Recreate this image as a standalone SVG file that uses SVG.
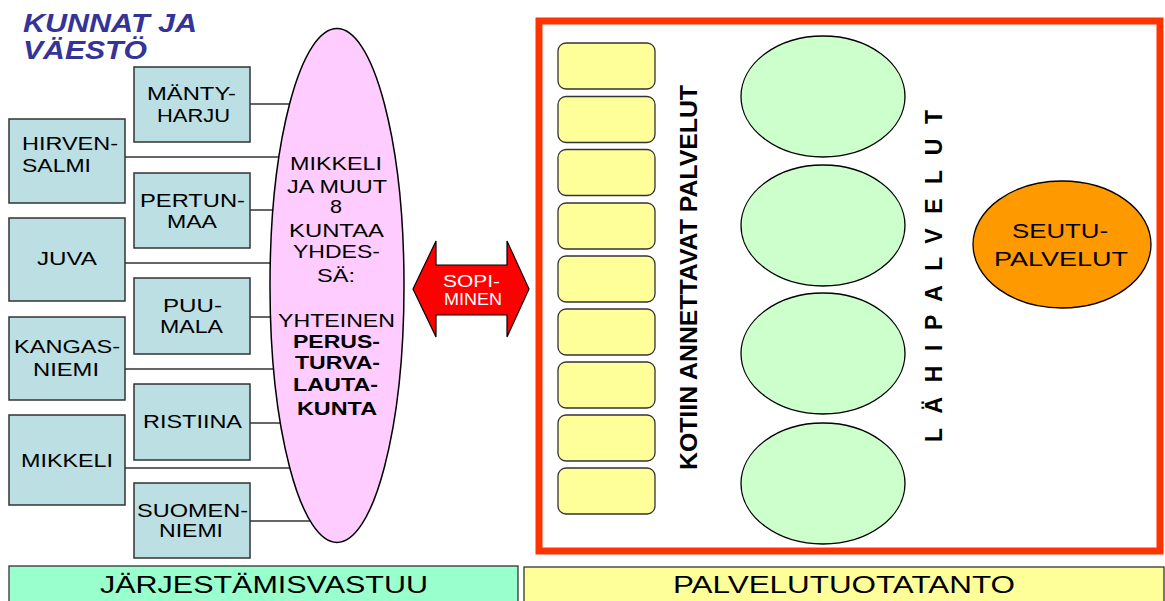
<svg xmlns="http://www.w3.org/2000/svg" width="1165" height="601" viewBox="0 0 1165 601">
<style>
text{font-family:"Liberation Sans",Arial,sans-serif;fill:#000}
.box{fill:#BBDFE3;stroke:#333;stroke-width:1.5}
.t18{font-size:18.5px}
.e{font-size:18.5px}
.b{font-weight:bold}
.conn line{stroke:#333;stroke-width:1.5}
.yr{fill:#FFFF99;stroke:#333;stroke-width:1.3}
.ge{fill:#CCFFCC;stroke:#000;stroke-width:1.3}
</style>
<rect width="1165" height="601" fill="#fff"/>
<g id="title">
<text x="23" y="31.5" font-size="26" font-weight="bold" font-style="italic" style="fill:#333399" textLength="174" lengthAdjust="spacingAndGlyphs">KUNNAT JA</text>
<text x="23" y="59" font-size="26" font-weight="bold" font-style="italic" style="fill:#333399" textLength="124" lengthAdjust="spacingAndGlyphs">VÄESTÖ</text>
</g>
<g id="connectors" class="conn">
<line x1="250" y1="104" x2="300" y2="104"/>
<line x1="125" y1="157" x2="300" y2="157"/>
<line x1="250" y1="210" x2="300" y2="210"/>
<line x1="125" y1="263" x2="300" y2="263"/>
<line x1="250" y1="317" x2="300" y2="317"/>
<line x1="125" y1="369" x2="300" y2="369"/>
<line x1="250" y1="423" x2="300" y2="423"/>
<line x1="125" y1="468" x2="300" y2="468"/>
<line x1="250" y1="521" x2="320" y2="521"/>
</g>
<g id="mantyharju"><rect class="box" x="134" y="67" width="116" height="75"/>
<text class="t18" x="147" y="100" textLength="89" lengthAdjust="spacingAndGlyphs">MÄNTY-</text>
<text class="t18" x="157" y="122" textLength="73" lengthAdjust="spacingAndGlyphs">HARJU</text></g>
<g id="hirvensalmi"><rect class="box" x="9" y="119" width="116" height="84"/>
<text class="t18" x="22" y="150" textLength="96" lengthAdjust="spacingAndGlyphs">HIRVEN-</text>
<text class="t18" x="22" y="172" textLength="69" lengthAdjust="spacingAndGlyphs">SALMI</text></g>
<g id="pertunmaa"><rect class="box" x="134" y="173" width="116" height="75"/>
<text class="t18" x="140" y="207" textLength="105" lengthAdjust="spacingAndGlyphs">PERTUN-</text>
<text class="t18" x="167" y="228" textLength="50" lengthAdjust="spacingAndGlyphs">MAA</text></g>
<g id="juva"><rect class="box" x="9" y="218" width="116" height="83"/>
<text class="t18" x="37" y="265" textLength="60" lengthAdjust="spacingAndGlyphs">JUVA</text></g>
<g id="puumala"><rect class="box" x="134" y="278" width="116" height="76"/>
<text class="t18" x="163" y="312" textLength="59" lengthAdjust="spacingAndGlyphs">PUU-</text>
<text class="t18" x="160" y="333" textLength="63" lengthAdjust="spacingAndGlyphs">MALA</text></g>
<g id="kangasniemi"><rect class="box" x="9" y="317" width="116" height="83"/>
<text class="t18" x="14" y="353" textLength="106" lengthAdjust="spacingAndGlyphs">KANGAS-</text>
<text class="t18" x="33" y="376" textLength="66" lengthAdjust="spacingAndGlyphs">NIEMI</text></g>
<g id="ristiina"><rect class="box" x="134" y="384" width="116" height="76"/>
<text class="t18" x="143" y="428" textLength="99" lengthAdjust="spacingAndGlyphs">RISTIINA</text></g>
<g id="mikkeli"><rect class="box" x="9" y="415" width="116" height="90"/>
<text class="t18" x="21" y="467" textLength="92" lengthAdjust="spacingAndGlyphs">MIKKELI</text></g>
<g id="suomenniemi"><rect class="box" x="134" y="483" width="116" height="75"/>
<text class="t18" x="137" y="517" textLength="111" lengthAdjust="spacingAndGlyphs">SUOMEN-</text>
<text class="t18" x="159" y="537" textLength="64" lengthAdjust="spacingAndGlyphs">NIEMI</text></g>
<g id="perusturva">
<ellipse cx="337" cy="285.5" rx="67" ry="257" fill="#FFCCFF" stroke="#000" stroke-width="1.5"/>
<text class="e" x="290" y="170" textLength="92" lengthAdjust="spacingAndGlyphs">MIKKELI</text>
<text class="e" x="287" y="193" textLength="100" lengthAdjust="spacingAndGlyphs">JA MUUT</text>
<text class="e" x="330" y="213" textLength="12" lengthAdjust="spacingAndGlyphs">8</text>
<text class="e" x="289" y="237" textLength="95" lengthAdjust="spacingAndGlyphs">KUNTAA</text>
<text class="e" x="293" y="258" textLength="87" lengthAdjust="spacingAndGlyphs">YHDES-</text>
<text class="e" x="317" y="282" textLength="38" lengthAdjust="spacingAndGlyphs">SÄ:</text>
<text class="e" x="278" y="327" textLength="117" lengthAdjust="spacingAndGlyphs">YHTEINEN</text>
<text class="e b" x="293" y="348" textLength="87" lengthAdjust="spacingAndGlyphs">PERUS-</text>
<text class="e b" x="295" y="369" textLength="85" lengthAdjust="spacingAndGlyphs">TURVA-</text>
<text class="e b" x="293" y="391" textLength="85" lengthAdjust="spacingAndGlyphs">LAUTA-</text>
<text class="e b" x="297" y="415" textLength="80" lengthAdjust="spacingAndGlyphs">KUNTA</text>
</g>
<g id="sopiminen">
<polygon points="413,289 436,241 436,265 507,265 507,241 529,289 507,337 507,315 436,315 436,337" fill="#FF0000" stroke="#000" stroke-width="1.2"/>
<text x="443" y="287" font-size="16" style="fill:#fff" textLength="57" lengthAdjust="spacingAndGlyphs">SOPI-</text>
<text x="444" y="305" font-size="16" style="fill:#fff" textLength="58" lengthAdjust="spacingAndGlyphs">MINEN</text>
</g>
<g id="palvelut-frame">
<rect x="539" y="21" width="621" height="530" fill="none" stroke="#FF3300" stroke-width="7"/>
</g>
<g id="kotiin">
<rect class="yr" x="558" y="43" width="97" height="46" rx="8"/>
<rect class="yr" x="558" y="96.5" width="97" height="46" rx="8"/>
<rect class="yr" x="558" y="149.5" width="97" height="46" rx="8"/>
<rect class="yr" x="558" y="203" width="97" height="46" rx="8"/>
<rect class="yr" x="558" y="256" width="97" height="46" rx="8"/>
<rect class="yr" x="558" y="309" width="97" height="46" rx="8"/>
<rect class="yr" x="558" y="362" width="97" height="46" rx="8"/>
<rect class="yr" x="558" y="415" width="97" height="46" rx="8"/>
<rect class="yr" x="558" y="468" width="97" height="46" rx="8"/>
<text transform="translate(697,470) rotate(-90)" font-size="24" font-weight="bold" textLength="385" lengthAdjust="spacingAndGlyphs">KOTIIN ANNETTAVAT PALVELUT</text>
</g>
<g id="lahipalvelut">
<ellipse class="ge" cx="823" cy="96.5" rx="82" ry="60.5"/>
<ellipse class="ge" cx="823" cy="225.5" rx="82" ry="60.5"/>
<ellipse class="ge" cx="823" cy="353.5" rx="82" ry="60.5"/>
<ellipse class="ge" cx="823" cy="483.5" rx="82" ry="60.5"/>
<text transform="translate(942,442) rotate(-90)" font-size="23" font-weight="bold" textLength="332" lengthAdjust="spacing">LÄHIPALVELUT</text>
</g>
<g id="seutupalvelut">
<ellipse cx="1062" cy="244.5" rx="89" ry="63.5" fill="#FF9900" stroke="#000" stroke-width="1.3"/>
<text x="1012" y="238" font-size="21" textLength="96" lengthAdjust="spacingAndGlyphs">SEUTU-</text>
<text x="994" y="266" font-size="21" textLength="134" lengthAdjust="spacingAndGlyphs">PALVELUT</text>
</g>
<g id="jarjestamisvastuu">
<rect x="9" y="566" width="509" height="40" fill="#99FFCC" stroke="#333" stroke-width="1.3"/>
<text x="100" y="593" font-size="23" textLength="328" lengthAdjust="spacingAndGlyphs">JÄRJESTÄMISVASTUU</text>
</g>
<g id="palvelutuotatanto">
<rect x="524" y="567" width="640" height="40" fill="#FFFF99" stroke="#333" stroke-width="1.3"/>
<text x="673" y="593" font-size="23" textLength="342" lengthAdjust="spacingAndGlyphs">PALVELUTUOTATANTO</text>
</g>
</svg>
